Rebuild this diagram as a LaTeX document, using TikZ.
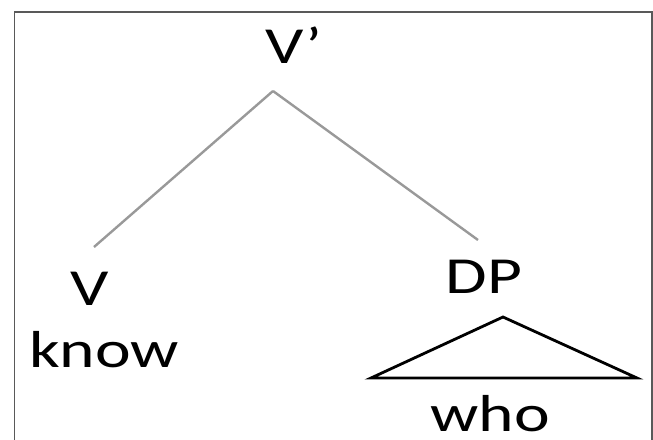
\documentclass[tikz,border=0pt]{standalone}
\usepackage{fontspec}
\setmainfont{Carlito}
\begin{document}
\begin{tikzpicture}[x=1pt,y=-1pt,
  lab/.style={font=\fontsize{52}{52}\selectfont, inner sep=0pt, anchor=base, xscale=1.3},
  branch/.style={draw=black!40, line width=2.4pt},
  tri/.style={draw=black, line width=2.8pt, line join=miter}]
\useasboundingbox (0,0) rectangle (653,439);
\draw[black!65, line width=1.5pt] (14.5,12) rectangle (652,460);
\node[lab] (Vbar) at (294,63) {V’};
\node[lab] (V) at (90,305) {V};
\node[lab] (know) at (104,367) {know};
\node[lab] (DP) at (484,293) {DP};
\node[lab, text depth=0pt] (who) at (490,431) {who};
\coordinate (apex) at (273,91);
\coordinate (Vend) at (94,247);
\coordinate (DPend) at (478,240);
\coordinate (ta) at (503,317);
\coordinate (tl) at (371,378);
\coordinate (tr) at (637,378);
\draw[branch] (apex) -- (Vend);
\draw[branch] (apex) -- (DPend);
\draw[tri] (ta) -- (tl) -- (tr) -- cycle;
\end{tikzpicture}
\end{document}
